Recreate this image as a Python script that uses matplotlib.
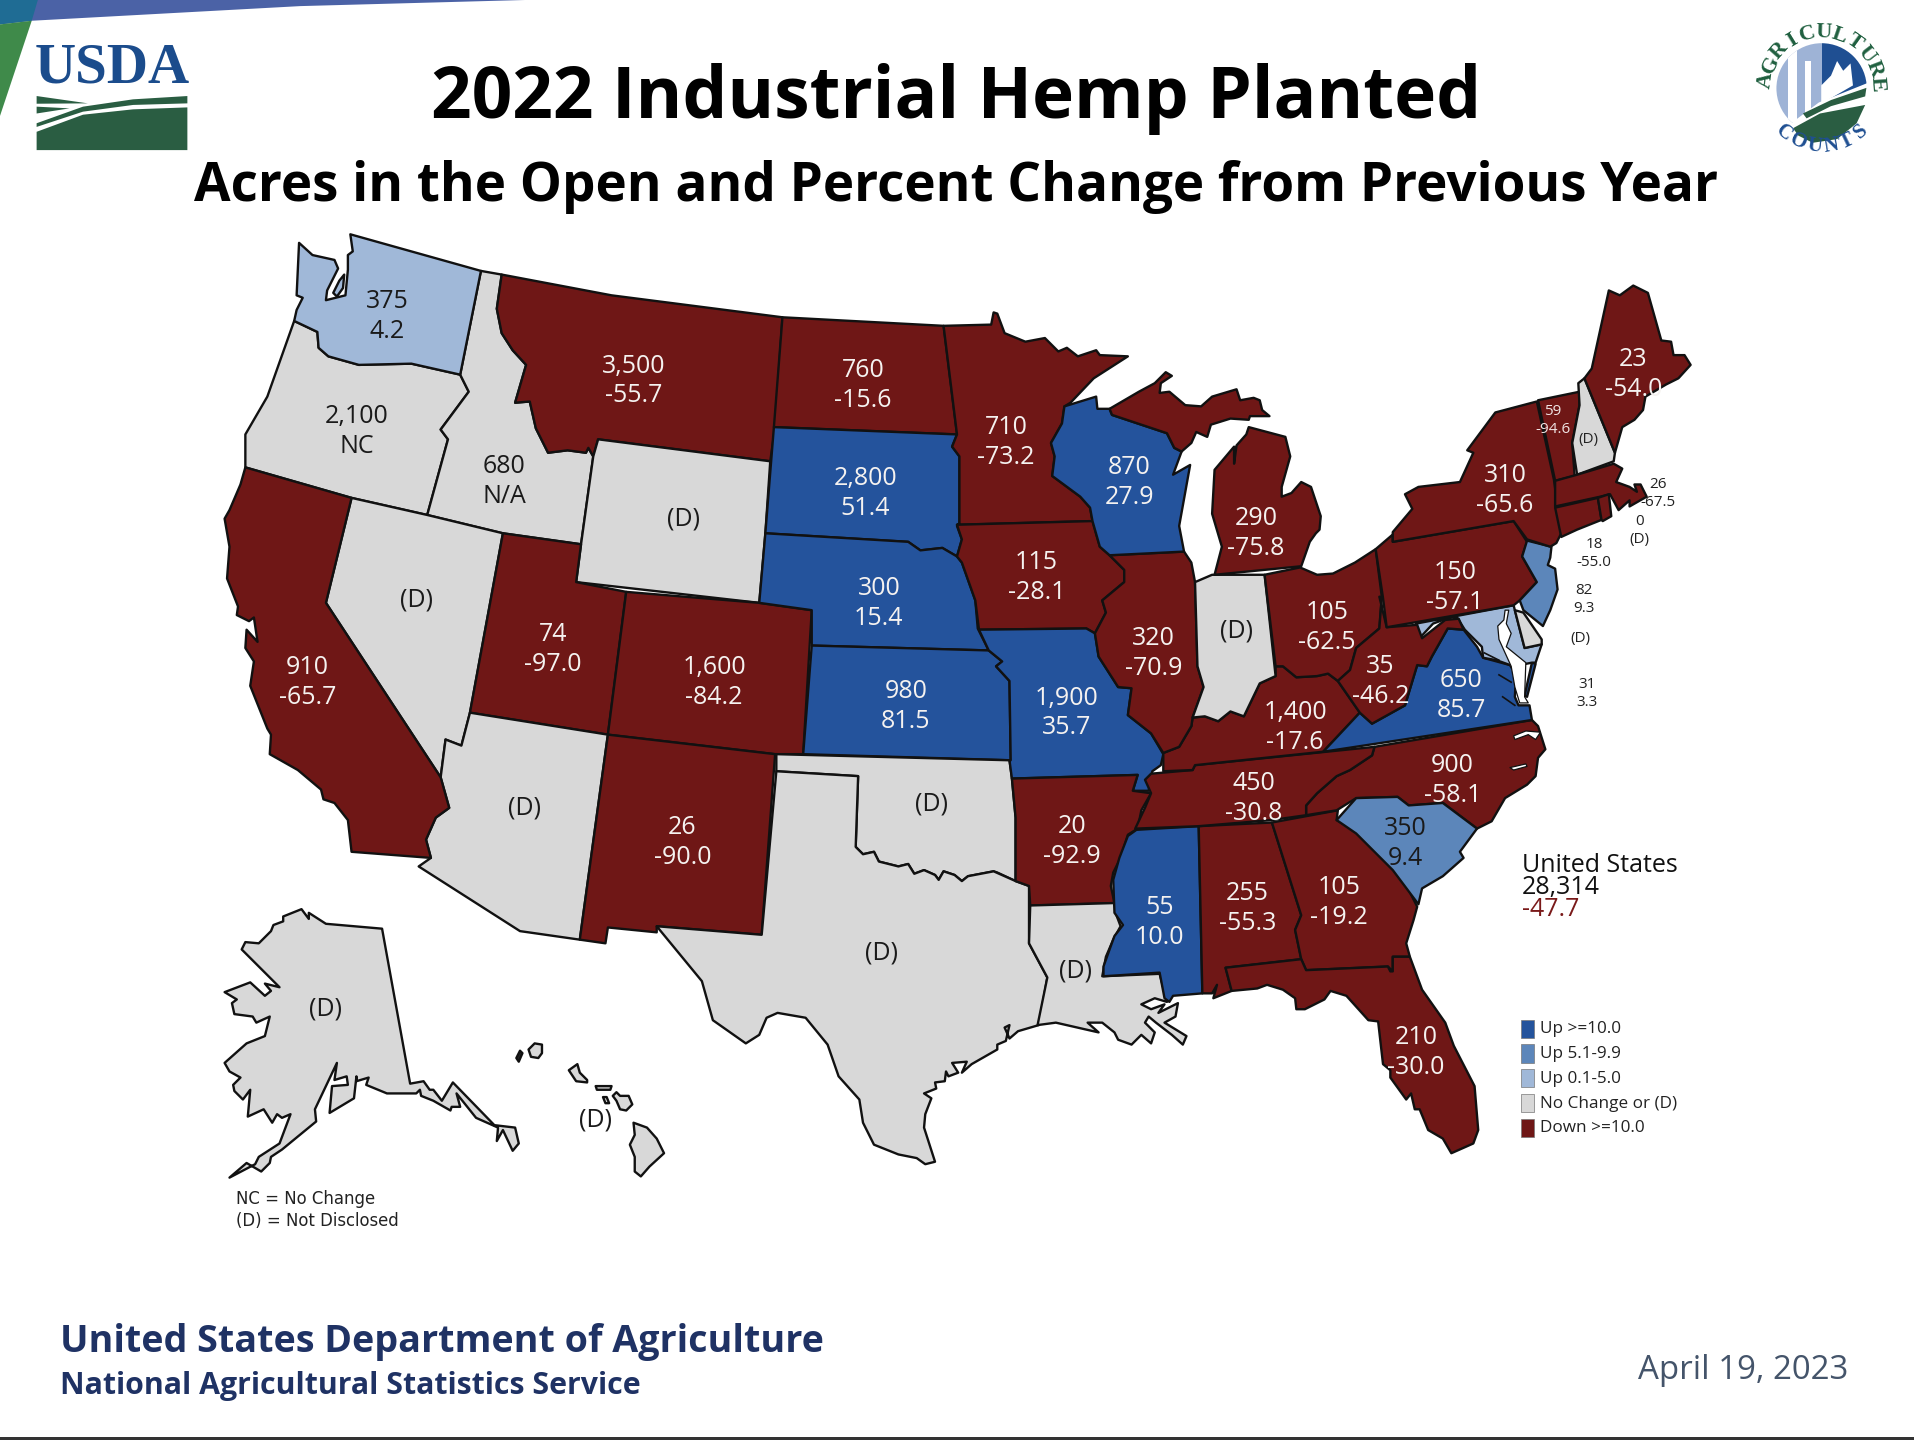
import numpy as np
import matplotlib
matplotlib.use("Agg")
import matplotlib.pyplot as plt
from matplotlib.patches import Polygon, Rectangle, Circle

# ---------- data ----------
COL_UP10 = "#24539c"; COL_UP5 = "#5c86ba"; COL_UP0 = "#a0b8d8"; COL_NC = "#d8d8d8"; COL_DOWN = "#6f1716"
LEGEND_LABELS = ["Up >=10.0", "Up 5.1-9.9", "Up 0.1-5.0", "No Change or (D)", "Down >=10.0"]
LEGEND_COLORS = [COL_UP10, COL_UP5, COL_UP0, COL_NC, COL_DOWN]

STATE_CODES = ["WA","OR","ID","MT","ND","MN","WI","MI","SD","NE","WY","NV","UT","CO","CA","AZ","NM","KS","OK","TX","IA","MO","AR","LA","MS","AL","GA","FL","SC","NC","TN","KY","IL","IN","OH","WV","VA","PA","NY","ME","AK","HI"]
ACRES = ["375","2,100","680","3,500","760","710","870","290","2,800","300","(D)","(D)","74","1,600","910","(D)","26","980","(D)","(D)","115","1,900","20","(D)","55","255","105","210","350","900","450","1,400","320","(D)","105","35","650","150","310","23","(D)","(D)"]
CHANGE = ["4.2","NC","N/A","-55.7","-15.6","-73.2","27.9","-75.8","51.4","15.4","","","-97.0","-84.2","-65.7","","-90.0","81.5","","","-28.1","35.7","-92.9","","10.0","-55.3","-19.2","-30.0","9.4","-58.1","-30.8","-17.6","-70.9","","-62.5","-46.2","85.7","-57.1","-65.6","-54.0","",""]
SMALL_STATES = ["VT","NH","MA","CT","RI","NJ","DE","MD"]
SMALL_ACRES = ["59","(D)","26","18","0","82","(D)","31"]
SMALL_CHANGE = ["-94.6","","-67.5","-55.0","(D)","9.3","","3.3"]
US_NAME = "United States"; US_ACRES = "28,314"; US_CHANGE = "-47.7"

# label anchors (picture coordinates)
LABEL_X = [317,292,413,519,707,824,925,1029,709,720,560,341,453,585,252,430,559,742,763,722,849,874,878,881,950,1022,1097,1160,1151,1190,1027,1061,945,1013,1087,1131,1197,1192,1233,1338,267,488]
LABEL_Y = [245,339,380,298,302,348,381,423,390,480,423,490,518,545,545,660,676,565,657,779,459,570,675,794,742,730,725,848,677,625,640,582,521,515,500,544,556,467,388,293,825,916]
SMALL_X = [1272,1301,1358,1306,1343,1298,1295,1300]
SMALL_Y = [336,359,396,445,426,483,522,560]

# ---------- state outlines (picture coordinates) ----------
WA = [(245,199),(256,209),(274,213),(277,220),(268,238),(267,246),(283,242),(285,221),(285,209),(289,206),(287,192),(394,222),(377,307),(337,298),(294,299),(269,292),(261,285),(260,272),(241,263),(243,254),(248,244),(243,242)]
WA_ISLAND = [(273,240),(278,230),(282,225),(281,236),(276,243)]
OR = [(241,263),(260,272),(261,285),(269,292),(294,299),(337,298),(377,307),(384,321),(361,352),(367,360),(350,422),(288,408),(201,383),(201,356),(219,325)]
ID = [(394,222),(411,225),(407,253),(411,273),(420,287),(431,299),(422,330),(434,329),(439,351),(449,371),(465,369),(480,371),(482,367),(486,374),(476,446),(412,437),(350,422),(367,360),(361,352),(384,321),(377,307)]
MT = [(411,225),(501,242),(641,260),(635,350),(631,378),(490,360),(486,374),(482,367),(480,371),(465,369),(449,371),(439,351),(434,329),(422,330),(431,299),(420,287),(411,273),(407,253)]
WY = [(490,360),(631,378),(627,437),(622,494),(472,477),(476,446),(486,374)]
UT = [(412,437),(476,446),(472,477),(513,485),(498,602),(385,584)]
CO = [(513,485),(622,494),(665,500),(658,618),(635,618),(498,602)]
NM = [(498,602),(635,618),(624,766),(538,759),(538,764),(498,760),(496,773),(475,770)]
AZ = [(385,584),(498,602),(475,770),(426,763),(343,710),(353,703),(349,688),(357,670),(368,662),(361,637),(365,606),(378,611)]
NV = [(288,408),(350,422),(412,437),(385,584),(378,611),(365,606),(361,637),(267,494)]
CA = [(201,383),(288,408),(267,494),(361,637),(368,662),(357,670),(349,688),(353,703),(288,698),(285,672),(274,658),(265,655),(263,647),(244,631),(221,618),(222,602),(219,597),(205,562),(208,542),(201,531),(202,516),(211,526),(208,506),(204,509),(194,504),(195,497),(186,474),(188,448),(184,425),(188,418),(197,397)]
ND = [(641,260),(773,267),(784,356),(634,350)]
SD = [(634,350),(784,356),(780,366),(786,374),(786,429),(784,431),(788,442),(784,456),(772,449),(754,451),(744,444),(627,437)]
NE = [(627,437),(744,444),(754,451),(772,449),(784,456),(788,461),(799,492),(801,515),(810,533),(665,529),(665,500),(622,494)]
KS = [(665,529),(810,533),(821,542),(816,546),(827,558),(828,623),(658,618)]
OK = [(636,618),(827,623),(829,638),(832,670),(832,722),(817,715),(814,714),(793,718),(788,722),(782,717),(773,714),(769,721),(766,717),(757,713),(749,716),(744,708),(736,710),(720,706),(716,698),(707,700),(701,694),(703,636),(636,632)]
TX = [(636,632),(703,636),(701,694),(707,700),(716,698),(720,706),(736,710),(744,708),(749,716),(757,713),(766,717),(769,721),(773,714),(782,717),(788,722),(793,718),(814,714),(832,722),(843,726),(843,773),(858,801),(851,840),(834,845),(827,851),(823,842),(827,840),(824,853),(817,856),(817,860),(796,872),(788,879),(792,870),(780,871),(785,879),(777,882),(775,878),(774,886),(766,887),(767,892),(757,896),(763,900),(758,913),(757,924),(766,952),(758,954),(751,949),(736,946),(716,938),(707,920),(704,901),(687,882),(678,856),(660,834),(637,830),(628,834),(622,848),(611,855),(584,836),(575,804),(538,759),(624,766)]
MN = [(773,267),(812,266),(814,256),(817,257),(823,273),(840,280),(856,277),(867,288),(874,285),(883,292),(898,287),(901,291),(924,292),(896,310),(877,330),(872,333),(870,347),(861,363),(864,374),(862,390),(885,407),(893,416),(895,427),(784,430),(786,429),(786,374),(780,366),(784,356)]
IA = [(784,430),(895,427),(901,448),(909,455),(921,467),(921,477),(903,492),(906,502),(897,519),(890,515),(802,516),(799,492),(788,461),(784,456),(788,442)]
MO = [(802,516),(890,515),(897,519),(900,538),(916,563),(927,564),(924,586),(943,601),(953,618),(951,627),(944,632),(941,648),(928,648),(932,635),(829,638),(827,623),(828,623),(827,558),(816,546),(821,542),(810,533)]
AR = [(829,638),(932,635),(928,648),(943,650),(935,664),(932,679),(924,684),(918,703),(912,715),(910,726),(913,740),(844,742),(843,726),(832,722),(832,670)]
LA = [(844,742),(913,740),(915,751),(918,759),(912,770),(906,784),(903,800),(950,798),(956,821),(946,818),(935,823),(943,827),(954,823),(949,830),(965,822),(963,833),(954,838),(972,849),(969,856),(960,848),(947,838),(941,833),(938,838),(946,846),(943,855),(935,848),(927,856),(916,852),(913,846),(903,838),(891,838),(900,846),(865,838),(850,840),(858,801),(843,773)]
MS = [(931,680),(982,677),(985,814),(961,816),(958,821),(954,818),(950,797),(904,800),(904,792),(909,778),(913,767),(920,758),(913,748),(912,721),(917,703),(924,685)]
AL = [(982,677),(1042,674),(1066,750),(1061,762),(1066,786),(1004,793),(1009,812),(999,816),(994,818),(997,807),(993,814),(985,814)]
GA = [(1042,674),(1096,664),(1095,672),(1109,680),(1147,715),(1161,743),(1158,754),(1152,773),(1155,784),(1141,784),(1141,796),(1137,792),(1070,795),(1066,786),(1061,762),(1066,750)]
FL = [(1004,793),(1066,786),(1070,795),(1137,792),(1139,796),(1141,796),(1141,784),(1155,784),(1165,811),(1184,838),(1191,857),(1208,890),(1211,926),(1207,937),(1189,945),(1182,933),(1170,926),(1163,909),(1159,909),(1156,896),(1152,901),(1139,883),(1139,877),(1133,872),(1129,837),(1121,836),(1103,816),(1090,812),(1085,819),(1069,827),(1062,827),(1061,818),(1051,811),(1038,807),(1030,810),(1009,812)]
SC = [(1095,672),(1111,654),(1145,653),(1154,660),(1182,658),(1210,679),(1196,698),(1199,703),(1182,718),(1165,728),(1162,741),(1141,713),(1111,683)]
NC = [(1126,612),(1255,590),(1260,595),(1266,614),(1260,621),(1258,636),(1251,643),(1233,654),(1222,673),(1210,679),(1182,658),(1154,660),(1145,653),(1111,654),(1095,664),(1070,668),(1070,660),(1079,650),(1095,636),(1106,631),(1124,619)]
TN = [(979,627),(1126,612),(1124,619),(1106,631),(1095,636),(1079,650),(1070,660),(1070,668),(1042,672),(982,677),(930,679),(938,662),(943,650),(938,639),(943,634),(977,631)]
KY = [(1045,554),(1045,546),(1051,546),(1062,555),(1079,554),(1088,552),(1096,558),(1114,584),(1084,616),(979,627),(977,631),(953,632),(953,617),(966,612),(976,595),(977,588),(987,587),(998,591),(1008,583),(1019,587),(1032,560)]
IL = [(909,455),(970,452),(976,461),(979,477),(981,546),(986,563),(977,588),(976,595),(966,612),(953,617),(943,601),(924,586),(927,564),(916,563),(900,538),(897,519),(906,502),(903,492),(921,477),(921,467)]
IN = [(979,477),(993,471),(1036,471),(1045,554),(1032,560),(1019,587),(1008,583),(998,591),(987,587),(977,588),(986,563),(981,546)]
WI = [(872,333),(898,325),(899,335),(909,335),(911,340),(956,355),(962,367),(968,370),(961,389),(975,381),(966,431),(970,452),(909,455),(901,448),(895,427),(893,416),(885,407),(862,390),(864,374),(861,363),(870,347)]
MI_UP = [(909,335),(933,321),(946,314),(955,305),(960,308),(951,314),(950,322),(958,321),(971,332),(984,333),(993,325),(1013,319),(1016,328),(1027,326),(1032,328),(1034,336),(1040,341),(1024,341),(1023,344),(1008,343),(992,348),(989,358),(980,354),(976,363),(968,370),(962,367),(956,355),(911,340)]
MI_LP = [(1023,350),(1053,358),(1057,374),(1050,399),(1050,407),(1058,404),(1066,395),(1074,399),(1082,423),(1081,434),(1078,437),(1073,444),(1066,464),(995,471),(1001,448),(993,421),(995,385),(1011,366),(1011,380),(1013,365),(1021,356)]
OH = [(1036,471),(1065,465),(1079,471),(1092,470),(1110,461),(1127,450),(1132,489),(1130,515),(1111,531),(1106,549),(1096,558),(1088,552),(1079,554),(1062,555),(1051,546),(1045,546)]
WV = [(1130,489),(1136,514),(1161,512),(1165,523),(1184,508),(1195,507),(1199,516),(1186,515),(1173,538),(1169,546),(1161,545),(1151,578),(1124,593),(1114,584),(1096,558),(1106,549),(1111,531),(1130,515),(1132,489)]
VA = [(1084,616),(1114,584),(1124,593),(1151,578),(1161,545),(1169,546),(1173,538),(1186,515),(1199,516),(1210,530),(1215,539),(1237,545),(1242,553),(1241,571),(1244,578),(1253,578),(1255,590)]
VA_SHORE = [(1255,543),(1258,544),(1251,571),(1249,570)]
PA = [(1127,450),(1141,438),(1141,444),(1240,427),(1251,444),(1247,456),(1259,477),(1245,492),(1240,496),(1136,514),(1133,490)]
NY = [(1141,444),(1240,427),(1251,442),(1270,448),(1275,445),(1279,437),(1273,393),(1259,329),(1225,338),(1202,369),(1207,371),(1196,395),(1162,399),(1151,405),(1157,417),(1141,436)]
VT = [(1260,328),(1294,321),(1294,332),(1288,363),(1290,390),(1274,394)]
NH = [(1293,314),(1298,310),(1323,371),(1322,378),(1292,389),(1288,363),(1294,332)]
ME = [(1298,310),(1304,302),(1318,238),(1327,242),(1338,234),(1350,240),(1361,279),(1369,280),(1371,291),(1380,291),(1385,299),(1375,310),(1365,315),(1348,325),(1346,336),(1339,344),(1329,350),(1323,371)]
MA = [(1274,394),(1292,389),(1322,380),(1329,384),(1324,395),(1335,399),(1341,403),(1339,397),(1344,397),(1349,407),(1335,415),(1335,410),(1326,418),(1319,405),(1311,407),(1274,415)]
CT = [(1274,416),(1309,408),(1312,426),(1292,434),(1279,440)]
RI = [(1309,408),(1318,405),(1320,423),(1313,427),(1312,426)]
NJ = [(1251,443),(1271,448),(1270,457),(1268,463),(1274,466),(1276,483),(1270,500),(1264,513),(1248,500),(1245,492),(1259,477),(1247,456)]
MD = [(1160,511),(1240,496),(1241,500),(1249,531),(1263,528),(1258,543),(1255,543),(1240,546),(1226,541),(1215,539),(1214,530),(1200,516),(1193,505),(1185,507),(1174,511),(1162,524)]
DE = [(1241,500),(1248,502),(1263,524),(1263,528),(1249,531)]
AK = [(247,745),(253,753),(253,748),(267,757),(313,761),(336,888),(347,886),(352,893),(355,893),(362,902),(371,887),(405,922),(422,924),(425,937),(420,943),(412,926),(407,935),(408,924),(390,916),(374,896),(377,907),(370,907),(369,910),(355,902),(345,898),(344,893),(341,896),(317,896),(300,889),(302,883),(292,886),(292,882),(290,900),(270,912),(272,890),(285,889),(284,882),(274,885),(276,871),(258,909),(259,919),(231,942),(222,948),(221,953),(214,960),(202,953),(188,965),(209,954),(212,948),(229,937),(238,913),(231,916),(227,913),(223,920),(216,909),(203,915),(205,893),(199,901),(192,894),(191,889),(197,883),(188,878),(184,871),(202,855),(217,849),(221,833),(210,838),(207,833),(192,831),(190,822),(194,819),(184,813),(205,805),(217,816),(222,812),(217,806),(229,809),(198,778),(201,772),(212,773),(222,763),(224,758),(232,755),(232,751)]
HI_KAUAI = [(433,860),(438,855),(444,856),(444,863),(441,867),(435,866)]
HI_NIIHAU = [(423,867),(426,861),(428,863),(425,870)]
HI_OAHU = [(466,877),(473,872),(475,879),(481,885),(481,887),(472,886)]
HI_MOLOKAI = [(488,890),(501,890),(500,893),(489,893)]
HI_LANAI = [(494,899),(497,899),(499,904),(496,904)]
HI_MAUI = [(502,898),(505,895),(508,898),(515,898),(518,905),(513,910),(508,909),(505,902)]
HI_BIG = [(519,920),(530,924),(538,933),(544,945),(532,956),(525,964),(520,960),(520,948),(516,938),(520,930)]

SHAPES = [(OR,COL_NC),(ID,COL_NC),(WA,COL_UP0),(WA_ISLAND,COL_UP0),(MT,COL_DOWN),(WY,COL_NC),(NV,COL_NC),(UT,COL_DOWN),(CO,COL_DOWN),(AZ,COL_NC),(NM,COL_DOWN),(CA,COL_DOWN),
 (ND,COL_DOWN),(SD,COL_UP10),(NE,COL_UP10),(KS,COL_UP10),(OK,COL_NC),(TX,COL_NC),(MN,COL_DOWN),(IA,COL_DOWN),(MO,COL_UP10),(AR,COL_DOWN),(LA,COL_NC),(MS,COL_UP10),(AL,COL_DOWN),(GA,COL_DOWN),(FL,COL_DOWN),
 (NC,COL_DOWN),(SC,COL_UP5),(TN,COL_DOWN),(KY,COL_DOWN),(IL,COL_DOWN),(IN,COL_NC),(WI,COL_UP10),(MI_UP,COL_DOWN),(MI_LP,COL_DOWN),(OH,COL_DOWN),(VA,COL_UP10),(VA_SHORE,COL_UP10),(MD,COL_UP0),(WV,COL_DOWN),(PA,COL_DOWN),(NJ,COL_UP5),(DE,COL_NC),
 (NY,COL_DOWN),(VT,COL_DOWN),(NH,COL_NC),(ME,COL_DOWN),(MA,COL_DOWN),(CT,COL_DOWN),(RI,COL_DOWN),(AK,COL_NC),(HI_KAUAI,COL_NC),(HI_NIIHAU,"#222222"),(HI_OAHU,COL_NC),(HI_MOLOKAI,COL_NC),(HI_LANAI,COL_NC),(HI_MAUI,COL_NC),(HI_BIG,COL_NC)]

# water details
CHESAPEAKE = [(1233,500),(1236,500),(1234,511),(1238,519),(1234,530),(1250,543),(1249,571),(1252,576),(1245,576),(1241,563),(1238,546),(1228,524),(1227,513),(1232,508)]
PAMLICO = [(1240,603),(1250,599),(1262,600),(1258,606),(1252,602),(1241,606)]
CORE_SOUND = [(1237,629),(1250,626),(1251,628),(1240,631)]
VA_RIVERS = [[(1228,553),(1238,559)],[(1231,571),(1241,578)],[(1216,535),(1228,541)]]

# ---------- figure ----------
plt.rcParams["font.family"] = ["Open Sans", "DejaVu Sans"]
fig = plt.figure(figsize=(19.14, 14.40), dpi=100, facecolor="white")
ax = fig.add_axes([0, 0, 1, 1])
ax.set_xlim(0, 1568); ax.set_ylim(1180, 0); ax.axis("off")

# banner
ax.add_patch(Polygon([(0,0),(430,0),(246,5),(26,17),(0,20)], fc="#4b62a6", ec="none"))
ax.add_patch(Polygon([(0,0),(31,0),(26,17),(0,20)], fc="#1f6c94", ec="none"))
ax.add_patch(Polygon([(0,20),(26,17),(0,95)], fc="#3f8a4a", ec="none"))
ax.add_patch(Rectangle((0,1177.5),1568,2.5, fc="#333333", ec="none"))

# USDA logo
ax.text(92, 56, "USDA", family=["Liberation Serif"], weight="bold", fontsize=41, color="#1b4c8c", ha="center", va="center")
G = "#2a5d42"
ax.add_patch(Polygon([(30,108),(68,94),(109,89.6),(153.5,88),(153.5,123),(30,123)], fc=G, ec="none"))
ax.add_patch(Polygon([(30,101),(68,87.4),(109,81.4),(153.5,78.7),(153.5,84.7),(109,86),(68,91.5),(30,104)], fc=G, ec="none"))
ax.add_patch(Polygon([(30,78.7),(72,84.7),(30,85)], fc=G, ec="none"))
ax.add_patch(Polygon([(30,87.4),(57,88.8),(30,93)], fc=G, ec="none"))

# Agriculture Counts logo
cx, cy, r = 1492.3, 72.4, 37
clipc = Circle((cx,cy), r, transform=ax.transData)
for rect in [Rectangle((cx-r,cy-r),r,2*r,fc="#9eb3d6",ec="none"), Rectangle((cx,cy-r),r,2*r,fc="#1f4f92",ec="none"),
             Rectangle((1465,40),7,60,fc="white",ec="none"), Rectangle((1479,50),5,50,fc="white",ec="none")]:
    ax.add_patch(rect); rect.set_clip_path(clipc)
ax.add_patch(Polygon([(1492,70),(1500,62),(1505,50),(1510,58),(1516,52),(1518,70),(1492,85)], fc="white", ec="none")).set_clip_path(clipc)
ax.add_patch(Polygon([(1462,105),(1490,84),(1530,68),(1535,85),(1510,120),(1470,120)], fc="white", ec="none"))
ax.add_patch(Polygon([(1477,93),(1500,82),(1529,72),(1528,79),(1500,87),(1480,97)], fc=G, ec="none"))
ax.add_patch(Polygon([(1469,105),(1491,93),(1528,86),(1521,101),(1505,114),(1485,117),(1473,111)], fc=G, ec="none"))
def arc_text(s, a0, a1, rad, col, fs, top=True):
    for ch, a in zip(s, np.linspace(a0, a1, len(s))):
        t = np.deg2rad(a)
        ax.text(cx+rad*np.cos(t), cy-rad*np.sin(t), ch, rotation=(a-90) if top else (a+90), rotation_mode="anchor",
                family=["Liberation Serif"], weight="bold", fontsize=fs, color=col, ha="center", va="center")
arc_text("AGRICULTURE", 172, 4, 46, "#1f5f3f", 16)
arc_text("COUNTS", -130, -48, 48, "#1f4f92", 15, top=False)

# titles
ax.text(783, 81, "2022 Industrial Hemp Planted", weight="bold", fontsize=51.2, ha="center", va="center", color="black")
ax.text(783, 153, "Acres in the Open and Percent Change from Previous Year", weight="bold", fontsize=38.2, ha="center", va="center", color="black")

# map
EDGE = "#111111"
for pts, col in SHAPES:
    ax.add_patch(Polygon(pts, closed=True, fc=col, ec=EDGE, lw=1.7, joinstyle="round"))
for pts in [CHESAPEAKE, PAMLICO, CORE_SOUND]:
    ax.add_patch(Polygon(pts, closed=True, fc="white", ec=EDGE, lw=0.9, joinstyle="round"))
for seg in VA_RIVERS:
    xs, ys = zip(*seg)
    ax.plot(xs, ys, color=EDGE, lw=1.2)

# state labels
DARK = {"WA","OR","ID","WY","NV","AZ","OK","TX","LA","IN","SC","AK","HI"}
for code, a, c, x, y in zip(STATE_CODES, ACRES, CHANGE, LABEL_X, LABEL_Y):
    col = "#1a1a1a" if code in DARK else "#f5f2f0"
    ax.text(x, y+2, a, fontsize=18, color=col, ha="center", va="center")
    if c:
        ax.text(x, y+26.5, c, fontsize=18, color=col, ha="center", va="center")

for code, a, c, x, y in zip(SMALL_STATES, SMALL_ACRES, SMALL_CHANGE, SMALL_X, SMALL_Y):
    col = "#f0e4e4" if code == "VT" else "#222222"
    ax.text(x, y+1, a, fontsize=11, color=col, ha="center", va="center")
    if c:
        ax.text(x, y+16, c, fontsize=11, color=col, ha="center", va="center")

# US total
ax.text(1247, 709, US_NAME, fontsize=18, color="#111111", ha="left", va="center")
ax.text(1247, 727, US_ACRES, fontsize=18, color="#111111", ha="left", va="center")
ax.text(1247, 745, US_CHANGE, fontsize=18, color="#7a1a1a", ha="left", va="center")

# legend
for i, (lab, col) in enumerate(zip(LEGEND_LABELS, LEGEND_COLORS)):
    y = 842.5 + i*20.3
    ax.add_patch(Rectangle((1246,y-7),10.5,15, fc=col, ec="#777777", lw=0.5))
    ax.text(1262, y+1, lab, fontsize=12.3, color="#222222", ha="left", va="center")

ax.text(193, 982.5, "NC = No Change", family=["DejaVu Sans"], fontsize=11.9, color="#222222", ha="left", va="center")
ax.text(193, 1000.5, "(D) = Not Disclosed", family=["DejaVu Sans"], fontsize=11.9, color="#222222", ha="left", va="center")

# footer
ax.text(49, 1100, "United States Department of Agriculture", weight="bold", fontsize=27.1, color="#1f3264", ha="left", va="center")
ax.text(49, 1136, "National Agricultural Statistics Service", weight="bold", fontsize=21.8, color="#1f3264", ha="left", va="center")
ax.text(1514, 1123, "April 19, 2023", fontsize=23.8, color="#44546a", ha="right", va="center")

fig.savefig("out.png", dpi=100)
